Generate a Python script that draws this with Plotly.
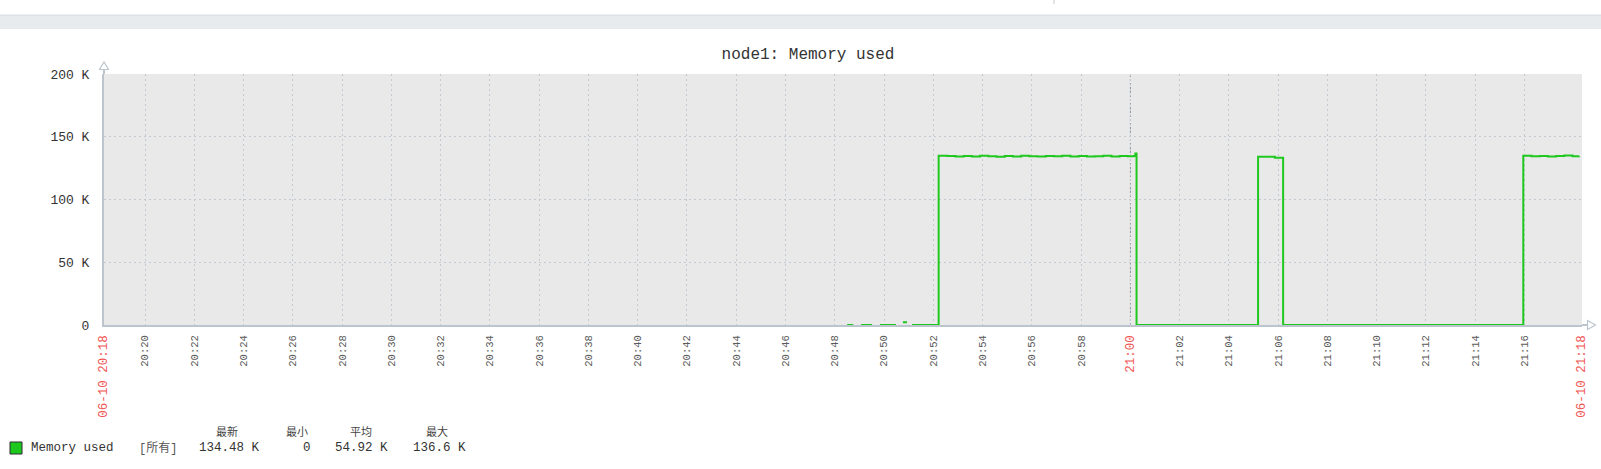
import plotly.graph_objects as go

DAY = "2024-06-10 "

# ---- data (values in K) ----
times = [
    "20:48:30", "20:48:45", None,
    "20:49:04", "20:49:31", None,
    "20:49:50", "20:50:29", None,
    "20:50:46", "20:50:56", None,
    "20:51:08", "20:52:09",
    "20:52:13", "20:52:34", "20:52:54", "20:53:14", "20:53:34", "20:53:54",
    "20:54:14", "20:54:34", "20:54:54", "20:55:14", "20:55:34", "20:55:54",
    "20:56:14", "20:56:34", "20:56:54", "20:57:14", "20:57:34", "20:57:54",
    "20:58:14", "20:58:34", "20:58:54", "20:59:14", "20:59:34", "20:59:54",
    "21:00:08", "21:00:12", "21:00:15",
    "21:05:11", "21:05:52", "21:06:12",
    "21:15:57", "21:16:17", "21:16:37", "21:16:57", "21:17:17", "21:17:37",
    "21:17:57", "21:18:13",
]
values = [
    0, 0, None,
    0, 0, None,
    0, 0, None,
    2.2, 2.2, None,
    0, 0,
    134.9, 134.6, 134.2, 134.7, 134.3, 134.8,
    134.4, 134.1, 134.6, 134.3, 134.9, 134.5,
    134.2, 134.7, 134.4, 134.8, 134.3, 134.6,
    134.2, 134.5, 134.9, 134.3, 134.7, 134.4,
    134.6, 136.6, 0,
    134.0, 133.2, 0,
    134.8, 134.5, 134.7, 134.3, 134.6, 135.0,
    134.4, 134.48,
]

x_start = "20:18:20"
x_end = "21:18:20"
x_tick_times = ["20:18:20", "20:20", "20:22", "20:24", "20:26", "20:28", "20:30", "20:32",
                "20:34", "20:36", "20:38", "20:40", "20:42", "20:44", "20:46", "20:48",
                "20:50", "20:52", "20:54", "20:56", "20:58", "21:00", "21:02", "21:04",
                "21:06", "21:08", "21:10", "21:12", "21:14", "21:16", "21:18:20"]
x_tick_labels = ["06-10 20:18", "20:20", "20:22", "20:24", "20:26", "20:28", "20:30", "20:32",
                 "20:34", "20:36", "20:38", "20:40", "20:42", "20:44", "20:46", "20:48",
                 "20:50", "20:52", "20:54", "20:56", "20:58", "21:00", "21:02", "21:04",
                 "21:06", "21:08", "21:10", "21:12", "21:14", "21:16", "06-10 21:18"]
highlight_labels = ["06-10 20:18", "21:00", "06-10 21:18"]
y_ticks = [0, 50, 100, 150, 200]
y_tick_labels = ["0", "50 K", "100 K", "150 K", "200 K"]

title_text = "node1: Memory used"
series_name = "Memory used"
legend_scope = "[所有]"
stat_headers = ["最新", "最小", "平均", "最大"]
stat_values = ["134.48 K", "0", "54.92 K", "136.6 K"]

# ---- style ----
W, H = 1601, 469
L, R, T, B = 104, 19, 74, 144
PW, PH = W - L - R, H - T - B
GREEN = "#1fc81f"
RED = "#f05656"
AXIS = "#bcc5ce"
GRID = "#c3cad1"
MONO = "Liberation Mono, DejaVu Sans Mono, monospace"
CJK = "Liberation Mono, Noto Sans CJK SC, sans-serif"


def px(xp):
    return (xp - L) / PW


def py(yp):
    return (H - B - yp) / PH


def ts(t):
    return None if t is None else DAY + t


ticktext = []
for lab in x_tick_labels:
    if lab in highlight_labels:
        ticktext.append('<span style="color:%s;font-size:12.5px">%s</span>' % (RED, lab))
    else:
        ticktext.append(lab)

fig = go.Figure()
fig.add_trace(go.Scatter(
    x=[ts(t) for t in times], y=values, mode="lines", line_shape="hv",
    line=dict(color=GREEN, width=2), connectgaps=False, hoverinfo="skip",
    showlegend=False,
))

shapes = []
# top grey band
shapes.append(dict(type="rect", xref="paper", yref="paper", x0=px(-5), x1=px(W + 5),
                   y0=py(29), y1=py(15), fillcolor="#e8ebee", line=dict(width=0), layer="below"))
shapes.append(dict(type="line", xref="paper", yref="paper", x0=px(-5), x1=px(W + 5),
                   y0=py(15), y1=py(15), line=dict(color="#d6dadd", width=1)))
shapes.append(dict(type="line", xref="paper", yref="paper", x0=px(1054), x1=px(1054),
                   y0=py(0), y1=py(4), line=dict(color="#c8c8c8", width=1)))
# darker 21:00 grid line
shapes.append(dict(type="line", xref="x", yref="paper", x0=DAY + "21:00", x1=DAY + "21:00",
                   y0=0, y1=1, line=dict(color="#8c949c", width=1, dash="2px,2px"), layer="below"))
# axis extensions and arrows
shapes.append(dict(type="line", xref="paper", yref="paper", x0=0, x1=0, y0=1, y1=py(69),
                   line=dict(color=AXIS, width=2)))
shapes.append(dict(type="line", xref="paper", yref="paper", x0=1, x1=px(1587), y0=0, y1=0,
                   line=dict(color=AXIS, width=2)))
shapes.append(dict(type="path", xref="paper", yref="paper",
                   path="M %f,%f L %f,%f L %f,%f Z" % (px(104), py(62), px(99.5), py(69.5), px(108.5), py(69.5)),
                   fillcolor="white", line=dict(color=AXIS, width=1.2)))
shapes.append(dict(type="path", xref="paper", yref="paper",
                   path="M %f,%f L %f,%f L %f,%f Z" % (px(1595.5), py(325), px(1587.5), py(320.5), px(1587.5), py(329.5)),
                   fillcolor="white", line=dict(color=AXIS, width=1.2)))
# legend swatch
shapes.append(dict(type="rect", xref="paper", yref="paper", x0=px(10), x1=px(22), y0=py(454), y1=py(442),
                   fillcolor=GREEN, line=dict(color="#2a2a2a", width=1)))

annotations = []
annotations.append(dict(x=px(29), y=py(448), xref="paper", yref="paper", text=series_name,
                        xanchor="left", yanchor="middle", showarrow=False,
                        font=dict(family=MONO, size=12.5, color="#333")))
annotations.append(dict(x=px(137), y=py(448), xref="paper", yref="paper", text=legend_scope,
                        xanchor="left", yanchor="middle", showarrow=False,
                        font=dict(family=CJK, size=12, color="#555")))
value_right = [262, 313, 390, 468]
header_center = [227, 297, 361, 437]
for i in range(4):
    annotations.append(dict(x=px(value_right[i]), y=py(448), xref="paper", yref="paper",
                            text=stat_values[i], xanchor="right", yanchor="middle", showarrow=False,
                            font=dict(family=MONO, size=12.5, color="#333")))
    annotations.append(dict(x=px(header_center[i]), y=py(431), xref="paper", yref="paper",
                            text=stat_headers[i], xanchor="center", yanchor="middle", showarrow=False,
                            font=dict(family="Noto Sans CJK SC", size=11, color="#444")))

fig.update_layout(
    width=W, height=H,
    margin=dict(l=L, r=R, t=T, b=B, autoexpand=False),
    paper_bgcolor="white", plot_bgcolor="#e9e9e9",
    title=dict(text=title_text, x=808 / W, xref="container", xanchor="center",
               y=1 - 53 / H, yref="container", yanchor="middle",
               font=dict(family=MONO, size=16, color="#333")),
    xaxis=dict(type="date", range=[DAY + x_start, DAY + x_end],
               tickmode="array", tickvals=[DAY + t for t in x_tick_times], ticktext=ticktext,
               tickangle=-90, tickfont=dict(family=MONO, size=10.5, color="#5a5a5a"),
               showgrid=True, gridcolor=GRID, griddash="2px,3px", gridwidth=1,
               showline=True, linecolor=AXIS, linewidth=2, zeroline=False,
               ticks="", ticklabelstandoff=4, layer="below traces"),
    yaxis=dict(range=[0, 200], tickmode="array", tickvals=y_ticks, ticktext=y_tick_labels,
               tickfont=dict(family=MONO, size=13, color="#333"),
               showgrid=True, gridcolor=GRID, griddash="2px,3px", gridwidth=1,
               showline=True, linecolor=AXIS, linewidth=2, zeroline=False,
               ticks="", ticklabelstandoff=10, layer="below traces"),
    shapes=shapes, annotations=annotations, showlegend=False,
)

fig.write_html("out.html", config={"displayModeBar": False},
               post_script="document.body.style.margin='0';document.body.style.overflow='hidden';")
